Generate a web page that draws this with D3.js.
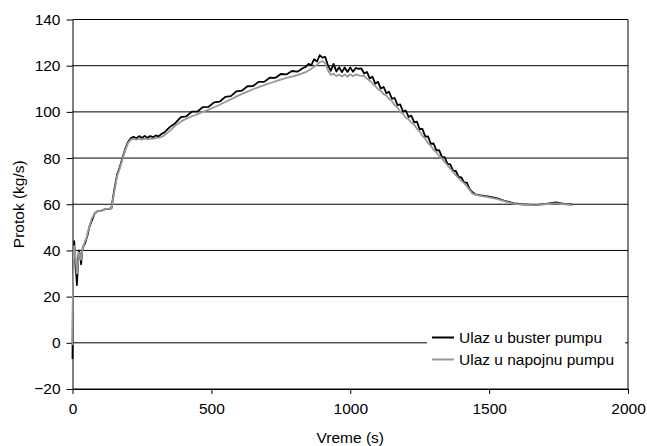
<!DOCTYPE html>
<html>
<head>
    <meta charset="utf-8">
    <script src="https://d3js.org/d3.v7.min.js"></script>
    <style>
        body { margin: 0; background: #fff; }
        text { font-family: Arial, "Liberation Sans", sans-serif; fill: #000; }
    </style>
</head>
<body>
    <script>
        // time (s)
        var time = [
            0, 2, 6, 10, 16, 20, 23, 27, 31, 35, 40, 45, 50, 55, 60, 70, 80, 90, 100, 110, 120, 130, 140,
            150, 160, 170, 180, 190, 200, 210, 220, 230, 240, 250, 260, 270, 280, 290, 300, 310, 320, 330,
            350, 370, 390, 410, 430, 450, 470, 490, 510, 530, 550, 570, 590, 610, 630, 650, 670, 690, 710, 730, 750, 770, 790, 810, 830,
            840, 850, 860, 870, 880, 890, 900, 910, 920, 930, 940, 950, 960, 970, 980, 990, 1000, 1010, 1020, 1030,
            1040, 1050, 1060, 1070, 1080, 1090, 1100, 1110, 1120, 1130, 1140, 1150, 1160, 1170, 1180, 1190, 1200,
            1210, 1220, 1230, 1240, 1250, 1260, 1270, 1280, 1290, 1300, 1310, 1320, 1330, 1340, 1350, 1360, 1370,
            1380, 1390, 1400, 1410, 1420, 1430, 1440, 1450,
            1470, 1500, 1530, 1560, 1590, 1620, 1650, 1680, 1710, 1740, 1770, 1800
        ];

        // Ulaz u buster pumpu (kg/s)
        var busterFlow = [
            -7, 30, 44, 36, 25, 36, 40, 38, 34, 40, 42, 43, 45, 47, 50, 53, 56, 57, 57, 57.5, 58, 58, 58.2,
            66, 72.5, 76, 80, 84, 87, 88.7, 89.2, 88.6, 89.5, 88.7, 89.6, 88.8, 89.5, 89, 89.8, 89.4, 90.4, 91,
            93.4, 95.1, 97.7, 98.1, 100.1, 100.2, 102.1, 102.2, 104.1, 104.4, 106.5, 106.8, 108.9, 109.2, 111.1, 111.2, 113, 113, 114.8, 114.7, 116.4, 116.2, 117.7, 117.4, 119,
            119.5, 120.8, 120.2, 122.8, 121.8, 124.5, 123.5, 123.8, 120, 117.8, 120.8, 117.5, 119.3, 117.2, 119.2, 117.3, 119.2, 117.4, 119, 118.6,
            118.8, 116.6, 117.3, 114.5, 115.2, 112.2, 113, 110.1, 110.8, 108.1, 108.7, 105.7, 106, 102.9, 103.2, 100.1, 100.6,
            97.8, 98.4, 95.5, 95.8, 92.5, 92.6, 89.3, 89.4, 86.2, 86.3, 83.3, 83.4, 80.5, 80.4, 77.5, 77.3, 74.6,
            74.4, 71.8, 71.6, 69.4, 69.4, 66.4, 65.2, 64.3,
            63.8, 63.3, 62.5, 61.3, 60.4, 60, 59.7, 59.8, 60.3, 60.8, 60.2, 59.9
        ];

        // Ulaz u napojnu pumpu (kg/s)
        var feedFlow = [
            -1, 28, 42, 38, 30, 35, 39, 38, 36, 39.5, 42, 44, 45, 48, 50, 54, 56, 57, 57, 57.5, 58, 58, 58.2,
            65, 72, 75.5, 79.5, 83.5, 86.5, 88, 88.3, 88, 88.3, 88, 88.4, 88.1, 88.4, 88.3, 88.7, 88.7, 89.2, 89.7,
            91.8, 94, 95.8, 97, 98.1, 99, 100, 101, 102, 103.1, 104.3, 105.4, 106.6, 107.8, 108.8, 109.8, 110.7, 111.6, 112.4, 113.2, 114, 114.7, 115.3, 115.9, 116.8,
            117.2, 118, 118.6, 119.6, 120.3, 121.5, 122, 121, 118, 116, 116.5, 115.5, 116.2, 115.3, 116.2, 115.2, 116.3, 115.4, 116.2, 115.8,
            115.6, 115.6, 114.4, 113.5, 112.3, 111.2, 109.8, 109.1, 107.7, 107.1, 105.6, 104.7, 102.9, 101.9, 100.1, 99.1, 97.5,
            96.8, 95.3, 94.5, 92.7, 91.5, 89.6, 88.4, 86.5, 85.3, 83.6, 82.5, 80.9, 79.8, 78.3, 76.9, 75.4, 74,
            72.6, 71.3, 70.2, 69, 67.8, 66.1, 64.6, 64.2,
            63.6, 63, 62.2, 61.1, 60.2, 59.9, 59.6, 59.7, 60.1, 60.4, 60, 59.7
        ];

        var xTicks = [0, 500, 1000, 1500, 2000];
        var yTicks = [-20, 0, 20, 40, 60, 80, 100, 120, 140];
        var seriesNames = ["Ulaz u buster pumpu", "Ulaz u napojnu pumpu"];
        var seriesColors = ["#000000", "#999999"];

        var width = 647;
        var height = 446;
        var plotLeft = 72.5, plotRight = 628, plotTop = 19.5, plotBottom = 389;

        var svg = d3.select("body").append("svg")
            .attr("width", width)
            .attr("height", height);

        svg.append("rect")
            .attr("width", width)
            .attr("height", height)
            .attr("fill", "#fff");

        var x = d3.scaleLinear().domain([0, 2000]).range([plotLeft, plotRight]);
        var y = d3.scaleLinear().domain([-20, 140]).range([plotBottom, plotTop]);

        // gridlines (incl. top border)
        svg.append("g")
            .selectAll("line")
            .data(yTicks)
            .enter().append("line")
            .attr("x1", plotLeft)
            .attr("x2", plotRight)
            .attr("y1", function(d) { return y(d); })
            .attr("y2", function(d) { return y(d); })
            .attr("stroke", "#000")
            .attr("stroke-width", 1);

        // right border
        svg.append("line")
            .attr("x1", plotRight).attr("x2", plotRight)
            .attr("y1", plotTop).attr("y2", plotBottom)
            .attr("stroke", "#000");

        // axes
        var yAxis = svg.append("g")
            .attr("transform", "translate(" + plotLeft + ",0)")
            .call(d3.axisLeft(y).tickValues(yTicks).tickFormat(d3.format("d")).tickSize(6).tickPadding(6).tickSizeOuter(0));
        var xAxis = svg.append("g")
            .attr("transform", "translate(0," + plotBottom + ")")
            .call(d3.axisBottom(x).tickValues(xTicks).tickFormat(d3.format("d")).tickSize(5).tickPadding(9).tickSizeOuter(0));

        [yAxis, xAxis].forEach(function(a) {
            a.select(".domain").attr("stroke", "#000");
            a.selectAll(".tick line").attr("stroke", "#000");
            a.selectAll("text")
                .style("font-size", "15.5px")
                .style("font-family", "Arial, 'Liberation Sans', sans-serif")
                .attr("fill", "#000");
        });

        // series
        var series = [busterFlow, feedFlow];
        var line = d3.line()
            .x(function(d) { return x(d[0]); })
            .y(function(d) { return y(d[1]); });

        series.forEach(function(values, i) {
            var pts = time.map(function(t, j) { return [t, values[j]]; });
            svg.append("path")
                .datum(pts)
                .attr("d", line)
                .attr("fill", "none")
                .attr("stroke", seriesColors[i])
                .attr("stroke-width", 1.8)
                .attr("stroke-linejoin", "round");
        });

        // axis titles
        svg.append("text")
            .attr("x", (plotLeft + plotRight) / 2)
            .attr("y", 443)
            .attr("text-anchor", "middle")
            .style("font-size", "15.5px")
            .text("Vreme (s)");

        svg.append("text")
            .attr("transform", "translate(24," + ((plotTop + plotBottom) / 2) + ") rotate(-90)")
            .attr("text-anchor", "middle")
            .style("font-size", "15.5px")
            .text("Protok (kg/s)");

        // legend
        var legend = svg.append("g");
        legend.append("rect")
            .attr("x", 427).attr("y", 327)
            .attr("width", 198).attr("height", 44)
            .attr("fill", "#fff");

        var item = legend.selectAll("g")
            .data(seriesNames)
            .enter().append("g")
            .attr("transform", function(d, i) { return "translate(0," + (337.5 + i * 22) + ")"; });

        item.append("line")
            .attr("x1", 432).attr("x2", 454)
            .attr("stroke", function(d, i) { return seriesColors[i]; })
            .attr("stroke-width", 2);

        item.append("text")
            .attr("x", 459)
            .attr("y", 5.5)
            .style("font-size", "15.5px")
            .text(function(d) { return d; });
    </script>
</body>
</html>
